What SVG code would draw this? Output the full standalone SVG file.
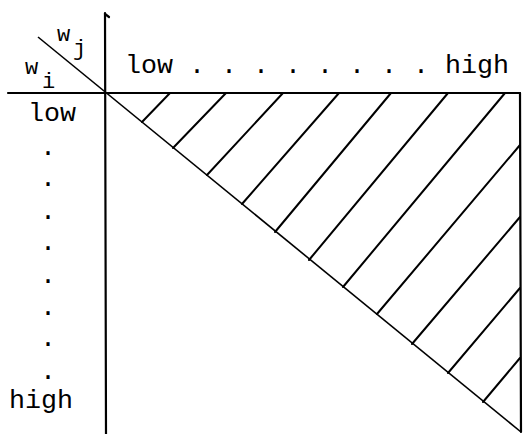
<svg xmlns="http://www.w3.org/2000/svg" width="524" height="434" viewBox="0 0 524 434">
<style>
.ax{stroke:#000;stroke-width:2.2;fill:none;stroke-linecap:round}
.dg{stroke:#000;stroke-width:1.6;fill:none}
.ht{stroke:#000;stroke-width:2;fill:none;stroke-linecap:round}
.t{font-family:"Liberation Mono","Courier New",monospace;font-size:26.67px;fill:#000}
.s{font-family:"Liberation Mono","Courier New",monospace;font-size:22px;fill:#000}
.d{font-family:"Liberation Mono","Courier New",monospace;font-size:26.67px;fill:#000;text-anchor:middle}
</style>
<rect width="524" height="434" fill="#fff"/>
<g id="axes">
<line class="ax" x1="8" y1="93" x2="520" y2="93"/>
<line class="ax" x1="105" y1="13" x2="106" y2="434"/>
<line class="ax" x1="520" y1="93" x2="521" y2="432"/>
<path class="ax" d="M105 14 L109 17" stroke-width="1.6"/>
</g>
<g id="diagonal">
<line class="dg" x1="38" y1="37" x2="521" y2="432"/>
</g>
<g id="hatching">
<line class="ht" x1="170" y1="93" x2="142" y2="122"/>
<line class="ht" x1="226" y1="93" x2="173" y2="148"/>
<line class="ht" x1="283" y1="93" x2="207" y2="175"/>
<line class="ht" x1="339" y1="93" x2="242" y2="204"/>
<line class="ht" x1="391" y1="93" x2="275" y2="232"/>
<line class="ht" x1="448" y1="93" x2="309" y2="260"/>
<line class="ht" x1="505" y1="93" x2="343" y2="287"/>
<line class="ht" x1="520" y1="145" x2="377" y2="314"/>
<line class="ht" x1="520" y1="217" x2="412" y2="344"/>
<line class="ht" x1="520" y1="288" x2="448" y2="373"/>
<line class="ht" x1="520" y1="358" x2="483" y2="402"/>
</g>
<g id="labels">
<text class="s" x="57" y="41">w</text>
<text class="s" x="73" y="55">j</text>
<text class="s" x="25" y="74">w</text>
<text class="s" x="42" y="88">i</text>
<text class="t" x="125" y="73">low . . . . . . . . high</text>
<text class="t" x="28" y="121">low</text>
<text class="d" x="48" y="155">.</text>
<text class="d" x="48" y="186">.</text>
<text class="d" x="48" y="219">.</text>
<text class="d" x="48" y="250">.</text>
<text class="d" x="48" y="283">.</text>
<text class="d" x="48" y="315">.</text>
<text class="d" x="48" y="346">.</text>
<text class="d" x="48" y="379">.</text>
<text class="t" x="9" y="408">high</text>
</g>
</svg>
